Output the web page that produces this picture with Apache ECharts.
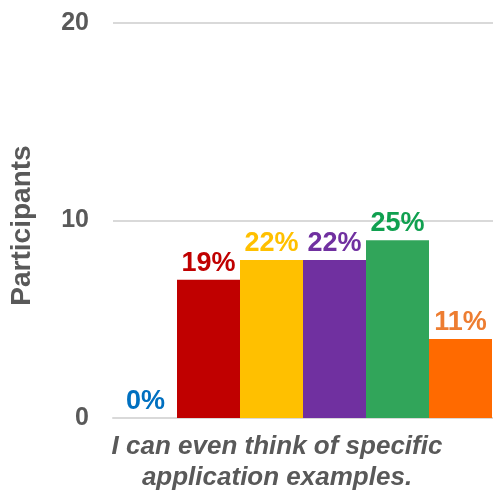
<!DOCTYPE html>
<html>
<head>
<meta charset="utf-8">
<script src="https://cdn.jsdelivr.net/npm/echarts@6/dist/echarts.min.js"></script>
<style>
  html, body { margin: 0; padding: 0; background: #ffffff; overflow: hidden; }
  #chart { width: 493px; height: 491px; }
</style>
</head>
<body>
<div id="chart"></div>
<script>
// Response counts for the single statement, one bar per answer level
const statement = 'I can even think of specific\napplication examples.';
const responseLevels = ['Level 1', 'Level 2', 'Level 3', 'Level 4', 'Level 5', 'Level 6'];
const participants = [0, 7, 8, 8, 9, 4];
const barColors = ['#0070C0', '#C00000', '#FFC000', '#7030A0', '#31A55A', '#FF6A00'];
const labelColors = ['#0070C0', '#C00000', '#FFC000', '#7030A0', '#10A050', '#ED7D31'];
const yTicks = { min: 0, max: 20, interval: 10 };

const total = participants.reduce((a, b) => a + b, 0);

const series = responseLevels.map((name, i) => ({
  name: name,
  type: 'bar',
  data: [participants[i]],
  barWidth: 63,
  barGap: '0%',
  itemStyle: { color: barColors[i] },
  label: {
    show: true,
    position: 'top',
    distance: 3,
    formatter: () => Math.round(participants[i] / total * 100) + '%',
    color: labelColors[i],
    fontFamily: 'Liberation Sans, Arial, sans-serif',
    fontWeight: 'bold',
    fontSize: 27
  }
}));

const chart = echarts.init(document.getElementById('chart'));
chart.setOption({
  animation: false,
  grid: { left: 113, right: 0, top: 23, bottom: 73, containLabel: false, outerBoundsMode: 'none' },
  xAxis: {
    type: 'category',
    data: [statement],
    axisLine: { show: true, lineStyle: { color: '#D9D9D9', width: 2 } },
    axisTick: { show: false },
    axisLabel: {
      interval: 0,
      margin: 13,
      color: '#595959',
      fontFamily: 'Liberation Sans, Arial, sans-serif',
      fontWeight: 'bold',
      fontStyle: 'italic',
      fontSize: 26,
      lineHeight: 31,
      padding: [0, 52, 0, 0]
    }
  },
  yAxis: {
    type: 'value',
    min: yTicks.min,
    max: yTicks.max,
    interval: yTicks.interval,
    name: 'Participants',
    nameLocation: 'middle',
    nameGap: 77,
    nameTextStyle: {
      color: '#595959',
      fontFamily: 'Liberation Sans, Arial, sans-serif',
      fontWeight: 'bold',
      fontSize: 28,
      padding: [0, 10, 0, 0]
    },
    axisLine: { show: false },
    axisTick: { show: false },
    splitLine: { lineStyle: { color: '#D9D9D9', width: 2 } },
    axisLabel: {
      margin: 24,
      color: '#595959',
      fontFamily: 'Liberation Sans, Arial, sans-serif',
      fontWeight: 'bold',
      fontSize: 25
    }
  },
  series: series
});
</script>
</body>
</html>
